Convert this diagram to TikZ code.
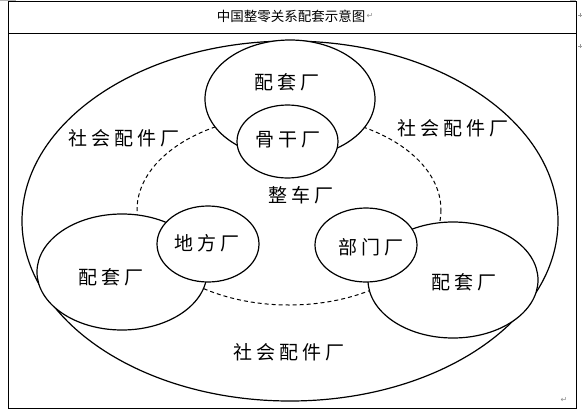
\documentclass[tikz,border=0pt]{standalone}
\usepackage{fontspec}
\newfontfamily\cjk{Noto Sans CJK SC}
\newfontfamily\cjkwide[LetterSpace=22]{Noto Sans CJK SC}
\newfontfamily\symfont{DejaVu Sans}
\usetikzlibrary{positioning}
\begin{document}
\begin{tikzpicture}[x=1pt, y=-1pt,
  ring/.style={line width=1.2pt},
  part/.style={ring, fill=white},
  plant/.style={font=\cjkwide\fontsize{19}{19}\selectfont, inner sep=0pt},
  editmark/.style={font=\symfont\fontsize{8}{8}\selectfont, text=black!45, inner sep=0pt}]
  \useasboundingbox (0,0) rectangle (582,413);
  % table frame with the title row
  \draw[line width=0.9pt] (8,1) rectangle (576,408);
  \draw[line width=0.9pt] (8,33) -- (576,33);
  \node[font=\cjk\fontsize{13.5}{14}\selectfont, inner sep=0pt] (title) at (291,16) {中国整零关系配套示意图};
  \node[editmark, right=1pt of title] (titleret) {↵};
  \node[editmark] (endret) at (564,400) {↵};
  \draw[black!40, line width=0.8pt] (578,15) -- (582,15) (580,13) -- (580,17);
  \draw[black!40, line width=0.8pt] (578,46) -- (582,46) (580,44) -- (580,48);
  \draw[black!30, line width=1.5pt] (0,0.5) -- (16,0.5) (570,0.5) -- (576,0.5);

  % society, car plant and the supplier rings
  \draw[ring] (290,221) ellipse [x radius=268, y radius=180];
  \draw[ring, line width=1pt, dash pattern=on 4pt off 3pt] (289,210) ellipse [x radius=152, y radius=95];
  \draw[part] (290,99) ellipse [x radius=85, y radius=59];
  \draw[part] (122,272) ellipse [x radius=85, y radius=58];
  \draw[part] (453,280) ellipse [x radius=85, y radius=58];
  \draw[part] (287.5,141.5) ellipse [x radius=50.5, y radius=36.5];
  \draw[part] (208,244) ellipse [x radius=51, y radius=38];
  \draw[part] (366,245) ellipse [x radius=51, y radius=37];

  \node[plant] (topsup) at (287,82) {配套厂};
  \node[plant] (core) at (288,140) {骨干厂};
  \node[plant] (leftsup) at (111,277) {配套厂};
  \node[plant] (local) at (207,243) {地方厂};
  \node[plant] (rightsup) at (464,282) {配套厂};
  \node[plant] (dept) at (371,247) {部门厂};
  \node[plant] (car) at (301,195) {整车厂};
  \node[plant] (socleft) at (124,138) {社会配件厂};
  \node[plant] (socright) at (453,128) {社会配件厂};
  \node[plant] (socbottom) at (289,352) {社会配件厂};
\end{tikzpicture}
\end{document}
